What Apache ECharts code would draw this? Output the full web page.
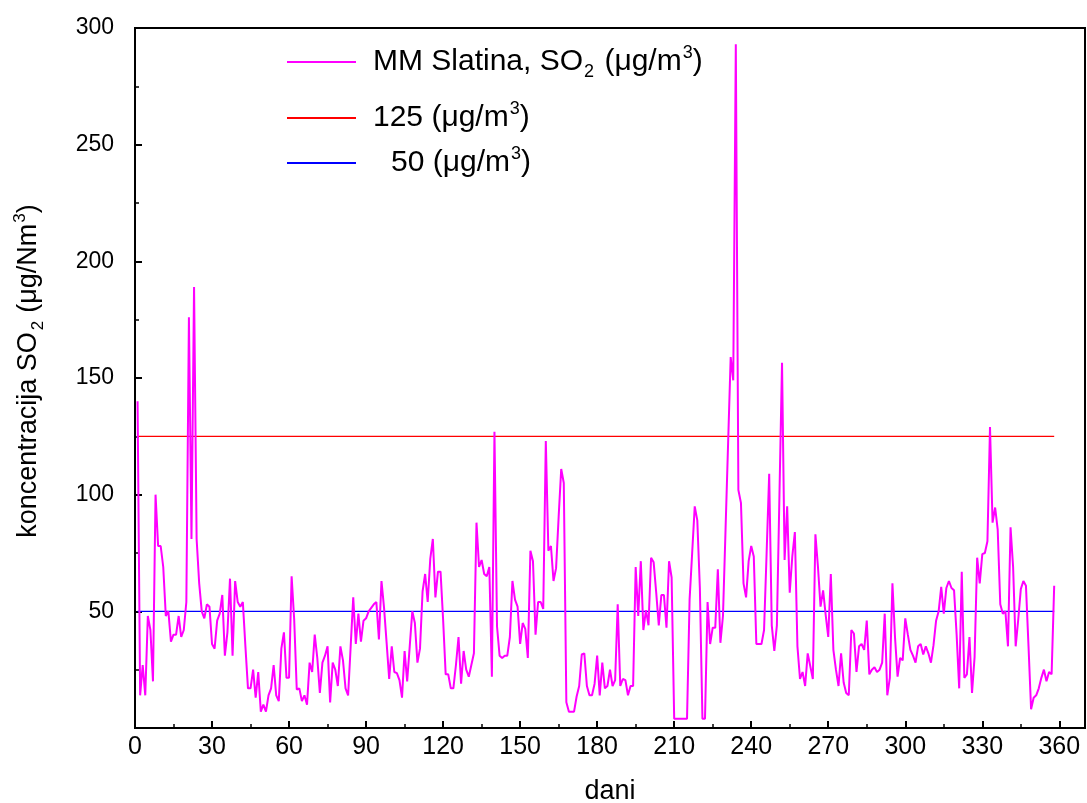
<!DOCTYPE html>
<html>
<head>
<meta charset="utf-8">
<script src="https://cdn.jsdelivr.net/npm/echarts@6/dist/echarts.min.js"></script>
<style>
html,body{margin:0;padding:0;background:#fff;}
#chart{width:1087px;height:803px;}
</style>
</head>
<body>
<div id="chart"></div>
<script>
// Daily SO2 concentration, MM Slatina (µg/m3), day 1 .. 358
var firstDay = 1;
var so2Days1to30 = [140,14,27,14,48,42,20,100,78,78,69,48,50,37,40,40,48,39,42,54,176,81,189,81,62,50,47,53,52,36];
var so2Days31to60 = [34,46,49,57,31,41,64,31,63,54,52,54,35,17,17,25,13,24,7,10,7,14,17,27,14,11.5,34,41,21.5,21.5];
var so2Days61to90 = [65,46.5,16.5,17,11.5,14,10,28,24,40,30,15,28,31,35,11,28,25,18,35,29,17,14,35,56,36,49,37,46,47];
var so2Days91to120 = [50,51.5,53,54,38,63,51.5,36.5,21,35,24,23.5,20.5,13,33,20,35,50,45,28,34,58.5,66,54,72.5,81,56,67,67,46.5];
var so2Days121to150 = [23,23,17,17,27,39,19,33,25,22,27,32,88,69,72,66,65,69,22,127,43.5,31,30,31,31,39,63,55,52,36];
var so2Days151to180 = [45,42.5,30,76,71.5,40,54,54,51,123,76,78,63,68.5,90.5,111,105,11,7,7,7,13.5,18,31.5,32,18,14,14,19,31];
var so2Days181to210 = [14,28,17,18,25,18,20.5,53,18,21,20.5,14,18,18,69,48,71.5,42,50.5,44,73,71,58,44,57,57,43,71.5,64.5,4];
var so2Days211to240 = [4,4,4,4,4,55,75,95,89,60,4,4,54,36,43,43,68,36.5,48,85,122,159,149,293,102,96.5,62,56,71.5,78];
var so2Days241to270 = [73.5,36,36,36,42,75,109,44,33,44,100,156.5,72,95,58,73.5,84,35,21,24,18,32,26.5,21,83,69,52,59,48.5,39];
var so2Days271to300 = [66,33.5,25,18,32,19.5,15,14,42,40.5,24,35,36,33.5,46,23,25,26,24,25,28,49,14,21.5,62,39,22,30,29,47];
var so2Days301to330 = [40,33.5,31,28,35,36,31.5,35,32,28,35.5,46,50,60.5,49,60,63,60,59,40,17,67,21.5,23,39,15,30.5,73,62,74.5];
var so2Days331to358 = [75,80,129,88,94.5,85,53,49,50,35,86,69,35,46.5,59.5,63,61,35,8,13,14,17,21.5,25,20,24,23,61];

var limitHigh = 125;
var limitLow = 50;
var limitStartDay = 1;
var limitEndDay = 358;

var seriesNames = ['MM Slatina, SO2 (µg/m3)', '125 (µg/m3)', '50 (µg/m3)'];
var xAxisTitle = 'dani';

var so2Values = [].concat(so2Days1to30, so2Days31to60, so2Days61to90, so2Days91to120,
  so2Days121to150, so2Days151to180, so2Days181to210, so2Days211to240,
  so2Days241to270, so2Days271to300, so2Days301to330, so2Days331to358);
var so2Data = so2Values.map(function (v, i) { return [firstDay + i, v]; });

var FONT = 'Liberation Sans, Arial, sans-serif';
var legendRich = {
  n: {fontSize: 30, fontFamily: FONT, color: '#000', lineHeight: 38, verticalAlign: 'middle'},
  sup: {fontSize: 18, fontFamily: FONT, color: '#000', lineHeight: 18, verticalAlign: 'top', padding: [1, 0, 0, 1]},
  sub: {fontSize: 18, fontFamily: FONT, color: '#000', lineHeight: 18, verticalAlign: 'bottom', padding: [0, 2, 0, 1]},
  pad: {fontSize: 30, fontFamily: FONT, width: 18}
};
var nameRich = {
  n: {fontSize: 27, fontFamily: FONT, color: '#000', lineHeight: 36, verticalAlign: 'middle'},
  sup: {fontSize: 17, fontFamily: FONT, color: '#000', lineHeight: 17, verticalAlign: 'top', padding: [1, 0, 0, 1]},
  sub: {fontSize: 17, fontFamily: FONT, color: '#000', lineHeight: 17, verticalAlign: 'bottom', padding: [0, 8, 0, 2]}
};
var legendText = {};
legendText[seriesNames[0]] = '{n|MM Slatina, SO}{sub|2}{n| (μg/m}{sup|3}{n|)}';
legendText[seriesNames[1]] = '{n|125 (μg/m}{sup|3}{n|)}';
legendText[seriesNames[2]] = '{pad|}{n|50 (μg/m}{sup|3}{n|)}';

function legendFor(name, top) {
  return {
    data: [name], left: 287, top: top, orient: 'horizontal',
    icon: 'rect', itemWidth: 69, itemHeight: 2, itemGap: 0,
    padding: 0,
    formatter: function (nm) { return legendText[nm]; },
    textStyle: {rich: legendRich, padding: [0, 0, 0, 12]}
  };
}

var chart = echarts.init(document.getElementById('chart'), null, {renderer: 'canvas'});
chart.setOption({
  animation: false,
  backgroundColor: '#fff',
  grid: {left: 135, right: 2, top: 28, bottom: 75, show: true, borderColor: '#000', borderWidth: 2,
    backgroundColor: 'transparent', containLabel: false, outerBoundsMode: 'none'},
  legend: [legendFor(seriesNames[0], 43), legendFor(seriesNames[1], 99), legendFor(seriesNames[2], 144)],
  xAxis: {
    type: 'value', min: 0, max: 370, interval: 30,
    name: xAxisTitle, nameLocation: 'middle', nameGap: 50,
    nameTextStyle: {fontSize: 27, fontFamily: FONT, color: '#000'},
    axisLine: {show: true, lineStyle: {color: '#000', width: 2}},
    axisTick: {show: true, inside: true, length: 7, lineStyle: {color: '#000', width: 2}},
    minorTick: {show: true, splitNumber: 2, length: 4, lineStyle: {color: '#000', width: 1.5}},
    axisLabel: {fontSize: 25, fontFamily: FONT, color: '#000', margin: 7, showMaxLabel: false,
      formatter: function (v) { return v > 360 ? '' : String(v); }},
    splitLine: {show: false}
  },
  yAxis: {
    type: 'value', min: 0, max: 300, interval: 50,
    name: '{n|koncentracija SO}{sub|2}{n|(μg/Nm}{sup|3}{n|)}',
    nameLocation: 'middle', nameGap: 88, nameRotate: 90,
    nameTextStyle: {rich: nameRich, padding: [0, 0, 0, 14]},
    axisLine: {show: true, lineStyle: {color: '#000', width: 2}},
    axisTick: {show: true, inside: true, length: 7, lineStyle: {color: '#000', width: 2}},
    minorTick: {show: true, splitNumber: 2, length: 4, lineStyle: {color: '#000', width: 1.5}},
    axisLabel: {fontSize: 23, fontFamily: FONT, color: '#000', margin: 21, showMinLabel: false},
    splitLine: {show: false}
  },
  series: [
    {name: seriesNames[0], type: 'line', data: so2Data, symbol: 'none',
      lineStyle: {color: '#ff00ff', width: 2}, itemStyle: {color: '#ff00ff'}, z: 3},
    {name: seriesNames[1], type: 'line', data: [[limitStartDay, limitHigh], [limitEndDay, limitHigh]], symbol: 'none',
      lineStyle: {color: '#ff0000', width: 1.2}, itemStyle: {color: '#ff0000'}, z: 2},
    {name: seriesNames[2], type: 'line', data: [[limitStartDay, limitLow], [limitEndDay, limitLow]], symbol: 'none',
      lineStyle: {color: '#0000ff', width: 1.2}, itemStyle: {color: '#0000ff'}, z: 2}
  ]
});
</script>
</body>
</html>
